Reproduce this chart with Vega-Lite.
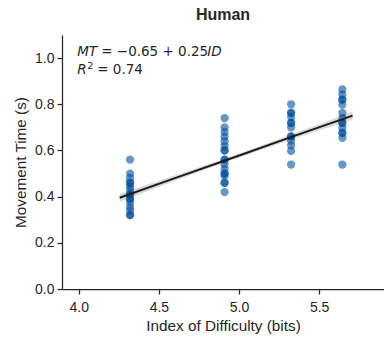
{
  "$schema": "https://vega.github.io/schema/vega-lite/v6.json",
  "width": 322,
  "height": 254,
  "autosize": {"type": "none"},
  "padding": {"left": 62, "top": 35, "right": 0, "bottom": 50},
  "title": {"text": "Human", "font": "Liberation Sans", "fontSize": 16, "fontWeight": "bold", "color": "#262626", "offset": 12, "anchor": "middle"},
  "config": {
    "view": {"stroke": null},
    "axis": {
      "grid": false,
      "domainColor": "#262626",
      "domainWidth": 1.25,
      "tickColor": "#262626",
      "tickWidth": 1.25,
      "tickSize": 5,
      "labelFont": "Liberation Sans",
      "labelFontSize": 14,
      "labelColor": "#262626",
      "titleFont": "Liberation Sans",
      "titleFontSize": 15.3,
      "titleFontWeight": "normal",
      "titleColor": "#262626",
      "labelPadding": 3
    }
  },
  "datasets": {
    "points": [
      {"ID": 4.32, "MT": 0.56}, {"ID": 4.32, "MT": 0.5}, {"ID": 4.32, "MT": 0.48}, {"ID": 4.32, "MT": 0.46}, {"ID": 4.32, "MT": 0.46},
      {"ID": 4.32, "MT": 0.445}, {"ID": 4.32, "MT": 0.43}, {"ID": 4.32, "MT": 0.41}, {"ID": 4.32, "MT": 0.41}, {"ID": 4.32, "MT": 0.39},
      {"ID": 4.32, "MT": 0.39}, {"ID": 4.32, "MT": 0.375}, {"ID": 4.32, "MT": 0.355}, {"ID": 4.32, "MT": 0.34}, {"ID": 4.32, "MT": 0.32}, {"ID": 4.32, "MT": 0.32},
      {"ID": 4.91, "MT": 0.74}, {"ID": 4.91, "MT": 0.7}, {"ID": 4.91, "MT": 0.68}, {"ID": 4.91, "MT": 0.66}, {"ID": 4.91, "MT": 0.64},
      {"ID": 4.91, "MT": 0.62}, {"ID": 4.91, "MT": 0.6}, {"ID": 4.91, "MT": 0.6}, {"ID": 4.91, "MT": 0.56}, {"ID": 4.91, "MT": 0.56},
      {"ID": 4.91, "MT": 0.54}, {"ID": 4.91, "MT": 0.52}, {"ID": 4.91, "MT": 0.5}, {"ID": 4.91, "MT": 0.5}, {"ID": 4.91, "MT": 0.49},
      {"ID": 4.91, "MT": 0.46}, {"ID": 4.91, "MT": 0.46}, {"ID": 4.91, "MT": 0.42},
      {"ID": 5.325, "MT": 0.8}, {"ID": 5.325, "MT": 0.763}, {"ID": 5.325, "MT": 0.763}, {"ID": 5.325, "MT": 0.745}, {"ID": 5.325, "MT": 0.719},
      {"ID": 5.325, "MT": 0.719}, {"ID": 5.325, "MT": 0.7}, {"ID": 5.325, "MT": 0.661}, {"ID": 5.325, "MT": 0.661}, {"ID": 5.325, "MT": 0.643},
      {"ID": 5.325, "MT": 0.622}, {"ID": 5.325, "MT": 0.598}, {"ID": 5.325, "MT": 0.539},
      {"ID": 5.645, "MT": 0.864}, {"ID": 5.645, "MT": 0.842}, {"ID": 5.645, "MT": 0.82}, {"ID": 5.645, "MT": 0.82}, {"ID": 5.645, "MT": 0.799},
      {"ID": 5.645, "MT": 0.763}, {"ID": 5.645, "MT": 0.741}, {"ID": 5.645, "MT": 0.719}, {"ID": 5.645, "MT": 0.719}, {"ID": 5.645, "MT": 0.698},
      {"ID": 5.645, "MT": 0.676}, {"ID": 5.645, "MT": 0.676}, {"ID": 5.645, "MT": 0.655}, {"ID": 5.645, "MT": 0.539}
    ],
    "fit": [
      {"ID": 4.255, "MT": 0.395, "lo": 0.377, "hi": 0.413},
      {"ID": 4.6, "MT": 0.48, "lo": 0.469, "hi": 0.491},
      {"ID": 4.98, "MT": 0.573, "lo": 0.565, "hi": 0.581},
      {"ID": 5.35, "MT": 0.664, "lo": 0.653, "hi": 0.675},
      {"ID": 5.709, "MT": 0.751, "lo": 0.733, "hi": 0.769}
    ],
    "lab": [{"ID": 3.99, "MT1": 1.008, "MT2": 0.932}]
  },
  "layer": [
    {
      "data": {"name": "points"},
      "mark": {"type": "circle", "size": 68, "color": "#0050a0", "opacity": 0.6},
      "encoding": {
        "x": {"field": "ID", "type": "quantitative", "scale": {"domain": [3.895, 5.905], "nice": false, "zero": false},
              "axis": {"title": "Index of Difficulty (bits)", "values": [4, 4.5, 5, 5.5], "format": ".1f", "labelPadding": 6, "titlePadding": 4}},
        "y": {"field": "MT", "type": "quantitative", "scale": {"domain": [0, 1.1], "nice": false},
              "axis": {"title": "Movement Time (s)", "values": [0, 0.2, 0.4, 0.6, 0.8, 1.0], "format": ".1f", "titlePadding": 6}}
      }
    },
    {
      "data": {"name": "fit"},
      "mark": {"type": "area", "color": "#000000", "opacity": 0.15},
      "encoding": {
        "x": {"field": "ID", "type": "quantitative", "scale": {"domain": [3.895, 5.905], "nice": false, "zero": false}},
        "y": {"field": "lo", "type": "quantitative", "scale": {"domain": [0, 1.1], "nice": false}},
        "y2": {"field": "hi"}
      }
    },
    {
      "data": {"name": "fit"},
      "mark": {"type": "line", "color": "#1c1c1c", "strokeWidth": 2},
      "encoding": {
        "x": {"field": "ID", "type": "quantitative", "scale": {"domain": [3.895, 5.905], "nice": false, "zero": false}},
        "y": {"field": "MT", "type": "quantitative", "scale": {"domain": [0, 1.1], "nice": false}}
      }
    },
    {
      "data": {"name": "lab"},
      "mark": {"type": "text", "text": "MT", "font": "DejaVu Sans", "fontStyle": "italic", "fontSize": 13.5, "align": "left", "baseline": "alphabetic", "color": "#262626"},
      "encoding": {"x": {"field": "ID", "type": "quantitative"}, "y": {"field": "MT1", "type": "quantitative"}}
    },
    {
      "data": {"name": "lab"},
      "mark": {"type": "text", "text": "= −0.65 + 0.25", "dx": 24, "font": "DejaVu Sans", "fontSize": 13.5, "align": "left", "baseline": "alphabetic", "color": "#262626"},
      "encoding": {"x": {"field": "ID", "type": "quantitative"}, "y": {"field": "MT1", "type": "quantitative"}}
    },
    {
      "data": {"name": "lab"},
      "mark": {"type": "text", "text": "ID", "dx": 130, "font": "DejaVu Sans", "fontStyle": "italic", "fontSize": 13.5, "align": "left", "baseline": "alphabetic", "color": "#262626"},
      "encoding": {"x": {"field": "ID", "type": "quantitative"}, "y": {"field": "MT1", "type": "quantitative"}}
    },
    {
      "data": {"name": "lab"},
      "mark": {"type": "text", "text": "R", "font": "DejaVu Sans", "fontStyle": "italic", "fontSize": 13.5, "align": "left", "baseline": "alphabetic", "color": "#262626"},
      "encoding": {"x": {"field": "ID", "type": "quantitative"}, "y": {"field": "MT2", "type": "quantitative"}}
    },
    {
      "data": {"name": "lab"},
      "mark": {"type": "text", "text": "2", "dx": 10, "dy": -5, "font": "DejaVu Sans", "fontSize": 9.5, "align": "left", "baseline": "alphabetic", "color": "#262626"},
      "encoding": {"x": {"field": "ID", "type": "quantitative"}, "y": {"field": "MT2", "type": "quantitative"}}
    },
    {
      "data": {"name": "lab"},
      "mark": {"type": "text", "text": "= 0.74", "dx": 20, "font": "DejaVu Sans", "fontSize": 13.5, "align": "left", "baseline": "alphabetic", "color": "#262626"},
      "encoding": {"x": {"field": "ID", "type": "quantitative"}, "y": {"field": "MT2", "type": "quantitative"}}
    }
  ]
}
